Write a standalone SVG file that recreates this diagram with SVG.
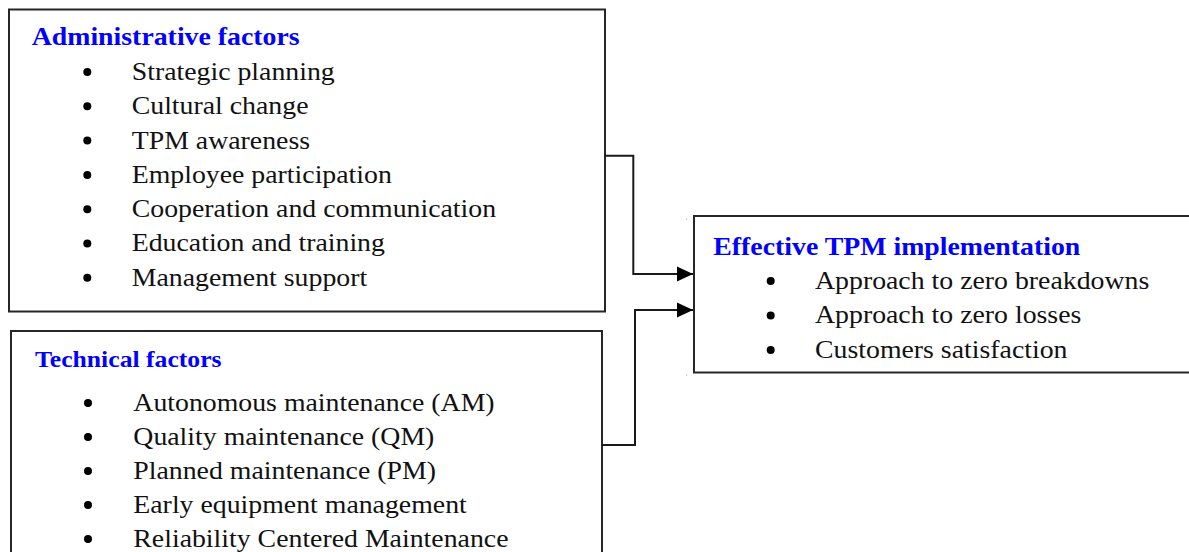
<svg xmlns="http://www.w3.org/2000/svg" width="1189" height="552" viewBox="0 0 1189 552">
  <style>
    .box { fill: #ffffff; stroke: #262626; stroke-width: 2; }
    .title { font-family: "Liberation Serif", "Times New Roman", serif; font-weight: bold; fill: #0000ff; }
    .item { font-family: "Liberation Serif", "Times New Roman", serif; font-size: 26px; fill: #111111; }
    .dot { fill: #000000; }
    .wire { fill: none; stroke: #1a1a1a; stroke-width: 2; }
  </style>
  <defs>
    <marker id="arrow" viewBox="0 0 16 16" refX="16" refY="8" markerWidth="16" markerHeight="16" markerUnits="userSpaceOnUse" orient="auto">
      <path d="M0,0.5 L16,8 L0,15.5 Z" fill="#000000"/>
    </marker>
  </defs>

  <rect width="1189" height="552" fill="#ffffff"/>

  <!-- Administrative factors -->
  <g id="administrative">
    <rect class="box" x="9" y="9.5" width="596" height="302"/>
    <text class="title" font-size="26" transform="translate(31.7 45) scale(1.07 1)">Administrative factors</text>
    <g>
      <circle class="dot" cx="87.3" cy="72" r="4"/>
      <circle class="dot" cx="87.3" cy="106.3" r="4"/>
      <circle class="dot" cx="87.3" cy="140.6" r="4"/>
      <circle class="dot" cx="87.3" cy="174.9" r="4"/>
      <circle class="dot" cx="87.3" cy="209.2" r="4"/>
      <circle class="dot" cx="87.3" cy="243.5" r="4"/>
      <circle class="dot" cx="87.3" cy="277.8" r="4"/>
    </g>
    <g transform="translate(131.7 80) scale(1.07 1)">
      <text class="item" y="0">Strategic planning</text>
      <text class="item" y="34.3">Cultural change</text>
      <text class="item" y="68.6">TPM awareness</text>
      <text class="item" y="102.9">Employee participation</text>
      <text class="item" y="137.2">Cooperation and communication</text>
      <text class="item" y="171.5">Education and training</text>
      <text class="item" y="205.8">Management support</text>
    </g>
  </g>

  <!-- Technical factors -->
  <g id="technical">
    <rect class="box" x="11" y="331" width="591" height="240"/>
    <text class="title" font-size="24" transform="translate(35 366.7) scale(1.07 1)">Technical factors</text>
    <g>
      <circle class="dot" cx="88" cy="403" r="4"/>
      <circle class="dot" cx="88" cy="437" r="4"/>
      <circle class="dot" cx="88" cy="471" r="4"/>
      <circle class="dot" cx="88" cy="505" r="4"/>
      <circle class="dot" cx="88" cy="539" r="4"/>
    </g>
    <g transform="translate(133.3 411) scale(1.07 1)">
      <text class="item" y="0">Autonomous maintenance (AM)</text>
      <text class="item" y="34">Quality maintenance (QM)</text>
      <text class="item" y="68">Planned maintenance (PM)</text>
      <text class="item" y="102">Early equipment management</text>
      <text class="item" y="136">Reliability Centered Maintenance</text>
    </g>
  </g>

  <!-- Effective TPM implementation -->
  <g id="effective">
    <rect class="box" x="694" y="216" width="510" height="156.5"/>
    <rect x="686.2" y="218.5" width="1" height="1" fill="#9a9a9a"/>
    <rect x="686.2" y="374.5" width="1" height="1" fill="#9a9a9a"/>
    <text class="title" font-size="26" transform="translate(713.3 255) scale(1.07 1)">Effective TPM implementation</text>
    <g>
      <circle class="dot" cx="770.7" cy="281" r="4"/>
      <circle class="dot" cx="770.7" cy="315.5" r="4"/>
      <circle class="dot" cx="770.7" cy="350" r="4"/>
    </g>
    <g transform="translate(815 289) scale(1.07 1)">
      <text class="item" y="0">Approach to zero breakdowns</text>
      <text class="item" y="34.5">Approach to zero losses</text>
      <text class="item" y="69">Customers satisfaction</text>
    </g>
  </g>

  <!-- Connectors into the TPM implementation box -->
  <g id="connectors">
    <path class="wire" d="M605,155.7 H633.3 V274 H693" marker-end="url(#arrow)"/>
    <path class="wire" d="M602,445 H635 V310 H693" marker-end="url(#arrow)"/>
  </g>
</svg>
